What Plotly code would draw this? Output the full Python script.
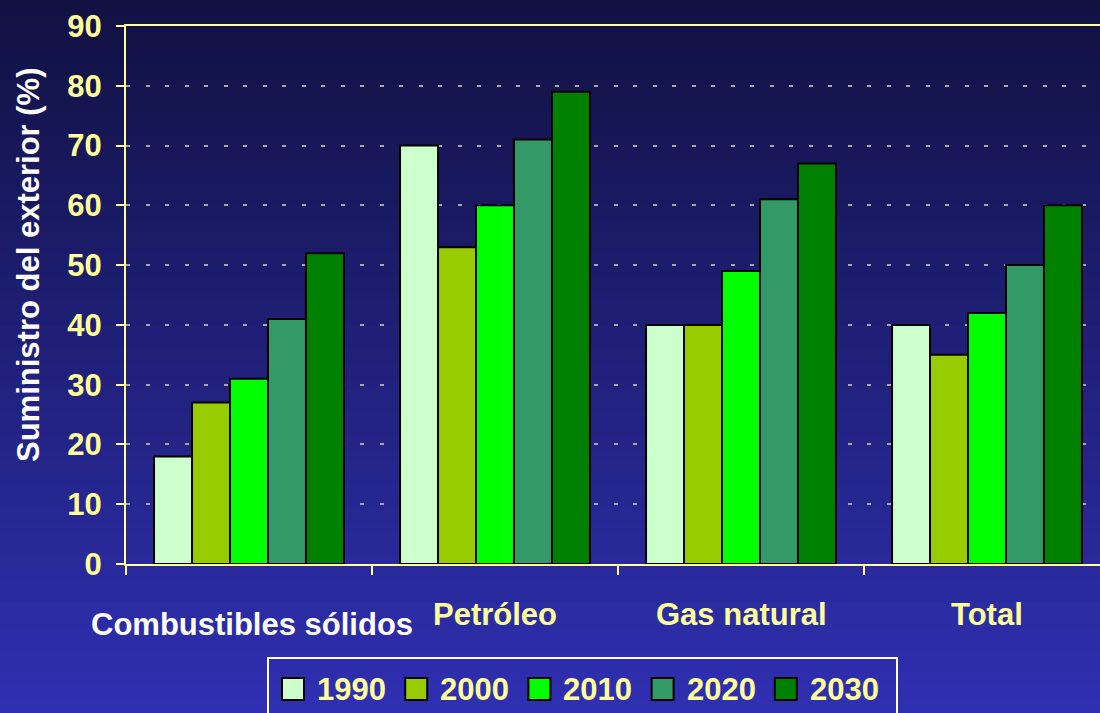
import plotly.graph_objects as go

categories = ["Combustibles sólidos", "Petróleo", "Gas natural", "Total"]
years = ["1990", "2000", "2010", "2020", "2030"]
values = {
    "1990": [18, 70, 40, 40],
    "2000": [27, 53, 40, 35],
    "2010": [31, 60, 49, 42],
    "2020": [41, 71, 61, 50],
    "2030": [52, 79, 67, 60],
}
colors = ["#CCFFCC", "#99CC00", "#00FF00", "#339966", "#008000"]
y_ticks = [0, 10, 20, 30, 40, 50, 60, 70, 80, 90]
y_title = "Suministro del exterior (%)"

W, H = 1100, 713
L, R, T, B = 126, 0, 26, 149
PW, PH = W - L - R, H - T - B

def px(x):
    return (x - L) / PW

def py(y):
    return (H - B - y) / PH

FONT = "Liberation Sans, Arial, sans-serif"
YEL = "#FFFF99"
FS = 31

fig = go.Figure()
for yr, c in zip(years, colors):
    fig.add_trace(go.Bar(
        x=categories, y=values[yr], name=yr,
        marker=dict(color=c, line=dict(color="black", width=2)),
        showlegend=False,
    ))

shapes = []
# background gradient
n = 90
top = (17, 17, 66)
bot = (47, 47, 178)
for i in range(n):
    t = i / (n - 1)
    col = tuple(int(round(top[k] + (bot[k] - top[k]) * t)) for k in range(3))
    y0 = H * i / n
    y1 = H * (i + 1) / n + 1
    shapes.append(dict(type="rect", xref="paper", yref="paper",
                       x0=px(0), x1=px(W), y0=py(y1), y1=py(y0),
                       fillcolor="rgb(%d,%d,%d)" % col, line=dict(width=0),
                       layer="below"))

# manual legend box
shapes.append(dict(type="rect", xref="paper", yref="paper",
                   x0=px(268), x1=px(897), y0=py(716), y1=py(658),
                   fillcolor="rgba(0,0,0,0)", line=dict(color="white", width=2)))
annotations = []
for i, (yr, c) in enumerate(zip(years, colors)):
    sx = 282 + i * 123.2
    shapes.append(dict(type="rect", xref="paper", yref="paper",
                       x0=px(sx), x1=px(sx + 22), y0=py(700), y1=py(678),
                       fillcolor=c, line=dict(color="black", width=2)))
    annotations.append(dict(x=px(sx + 33), y=py(689), xref="paper", yref="paper",
                            text=yr, showarrow=False, xanchor="left", yanchor="middle",
                            font=dict(family=FONT, size=FS, color=YEL, weight="bold")))

# category labels
for i, cat in enumerate(categories):
    if i == 0:
        annotations.append(dict(x=cat, y=py(624), xref="x", yref="paper", text=cat,
                                showarrow=False, xanchor="center", yanchor="middle", xshift=3,
                                font=dict(family=FONT, size=FS, color="white", weight="bold")))
    else:
        annotations.append(dict(x=cat, y=py(614), xref="x", yref="paper", text=cat,
                                showarrow=False, xanchor="center", yanchor="middle",
                                font=dict(family=FONT, size=FS, color=YEL, weight="bold")))

annotations.append(dict(x=px(28), y=py(265), xref="paper", yref="paper", text=y_title,
                        showarrow=False, textangle=-90, xanchor="center", yanchor="middle",
                        font=dict(family=FONT, size=31, color="white", weight="bold")))

fig.update_layout(
    width=W, height=H,
    margin=dict(l=L, r=R, t=T, b=B, pad=0),
    paper_bgcolor="#22228a",
    plot_bgcolor="rgba(0,0,0,0)",
    barmode="group", bargap=0.228, bargroupgap=0,
    shapes=shapes, annotations=annotations,
    xaxis=dict(range=[-0.5, -0.5 + PW / 246.0], showticklabels=False,
               ticks="outside", tickson="boundaries", ticklen=9, tickwidth=2, tickcolor=YEL,
               showline=True, linecolor=YEL, linewidth=2, mirror=True, showgrid=False),
    yaxis=dict(range=[0, 90], tickvals=y_ticks, ticks="outside", ticklen=8, tickwidth=2,
               tickcolor=YEL, showline=True, linecolor=YEL, linewidth=2,
               showgrid=True, gridcolor="#A8A8A0", gridwidth=1.5, griddash="4px,15.5px",
               zeroline=False, ticklabelstandoff=8,
               tickfont=dict(family=FONT, size=FS, color=YEL, weight="bold")),
)

fig.write_html("out.html", config={"displayModeBar": False},
               post_script="document.body.style.margin='0';document.body.style.overflow='hidden';")
